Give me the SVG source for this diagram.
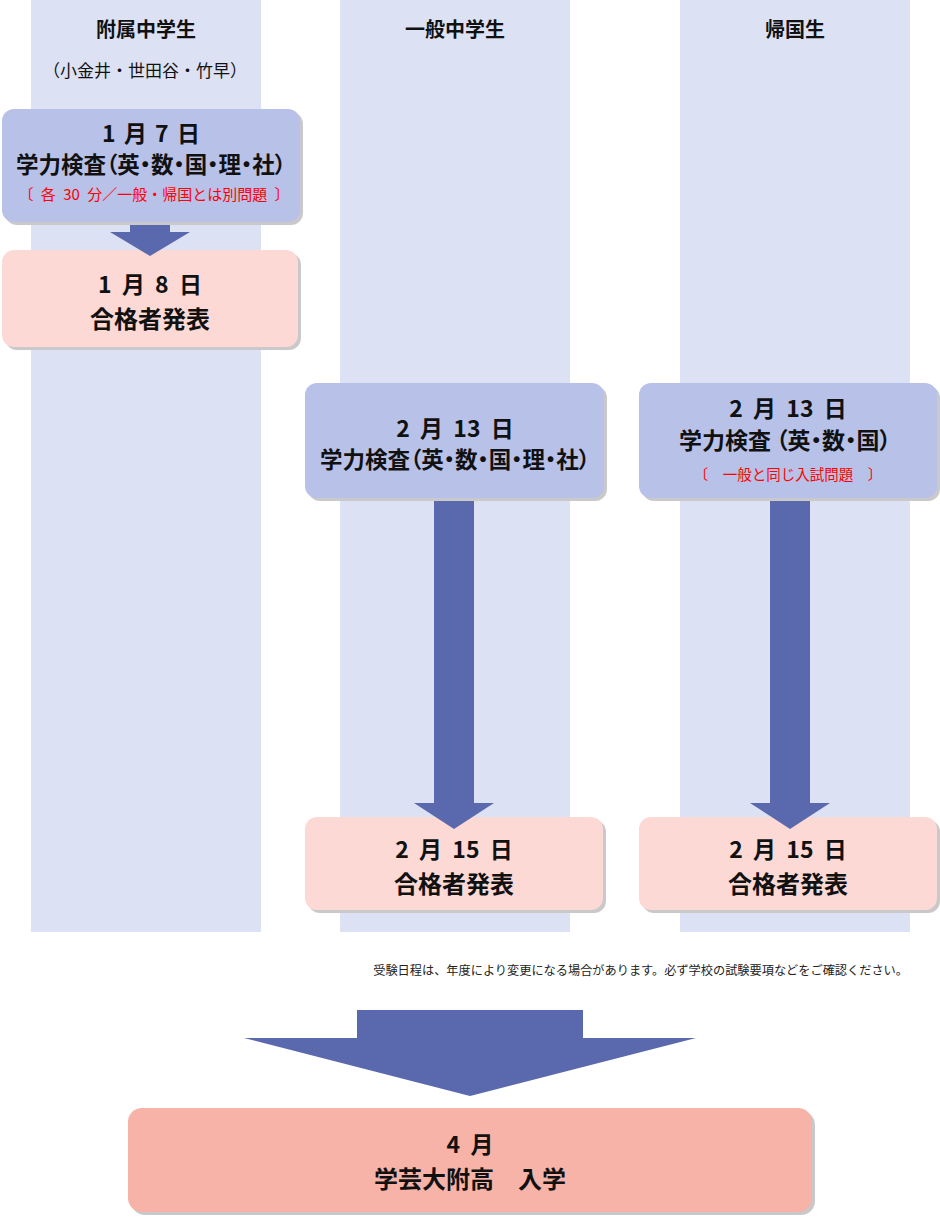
<svg xmlns="http://www.w3.org/2000/svg" width="940" height="1217" viewBox="0 0 940 1217">
<defs>
<style>
text{font-family:"Noto Sans CJK JP","Noto Sans",sans-serif;text-anchor:middle;dominant-baseline:central;fill:#111}
.col{fill:#dde1f4}
.sh{fill:#c9c9cb}
.blue{fill:#b8c1e8}
.pink{fill:#fcd9d4}
.big{fill:#f7b3a8}
.arr{fill:#5a69ae}
.hd{font-size:20px;font-weight:700}
.sub{font-size:17px}
.dt{font-size:23px;font-weight:700;word-spacing:5px}
.rs{font-size:24px;font-weight:700}
.tt{font-size:22.5px;font-weight:700;font-feature-settings:"palt" 1}
.rd{font-size:14.5px;fill:#f00}
.rd1{font-size:15px;fill:#f00;word-spacing:4px}
.nt{font-size:12.2px;text-anchor:end;fill:#222}
</style>
</defs>
<g id="columns">
<rect class="col" x="31" y="0" width="230" height="932"/>
<rect class="col" x="340" y="0" width="230" height="932"/>
<rect class="col" x="680" y="0" width="230" height="932"/>
</g>
<g id="headers">
<text class="hd" x="146" y="28">附属中学生</text>
<text class="sub" x="145" y="69">（小金井・世田谷・竹早）</text>
<text class="hd" x="455" y="28">一般中学生</text>
<text class="hd" x="795" y="28">帰国生</text>
</g>
<g id="node-jan8">
<rect class="sh" x="5" y="253" width="296" height="97" rx="12"/>
<rect class="pink" x="2" y="250" width="296" height="97" rx="12"/>
<text class="dt" x="150" y="283">1 月 8 日</text>
<text class="rs" x="150" y="317">合格者発表</text>
</g>
<g id="node-jan7">
<rect class="sh" x="5" y="112" width="298" height="113" rx="12"/>
<rect class="blue" x="2" y="109" width="298" height="113" rx="12"/>
<text class="dt" x="151" y="132" style="word-spacing:3px">1 月 7 日</text>
<text class="tt" x="151" y="163">学力検査（英・数・国・理・社）</text>
<text class="rd1" x="154" y="193">〔 各 30 分／一般・帰国とは別問題 〕</text>
</g>
<g id="node-feb13-general">
<rect class="sh" x="308" y="386" width="299" height="115" rx="12"/>
<rect class="blue" x="305" y="383" width="299" height="115" rx="12"/>
<text class="dt" x="455" y="427">2 月 13 日</text>
<text class="tt" x="455" y="458">学力検査（英・数・国・理・社）</text>
</g>
<g id="node-feb13-returnee">
<rect class="sh" x="642" y="386" width="298" height="115" rx="12"/>
<rect class="blue" x="639" y="383" width="298" height="115" rx="12"/>
<text class="dt" x="788" y="407">2 月 13 日</text>
<text class="tt" x="785" y="439" style="font-size:23px">学力検査 （英・数・国）</text>
<text class="rd" x="788" y="473">〔　一般と同じ入試問題　〕</text>
</g>
<g id="node-feb15-general">
<rect class="sh" x="308" y="820" width="298" height="93" rx="12"/>
<rect class="pink" x="305" y="817" width="298" height="93" rx="12"/>
<text class="dt" x="454" y="848">2 月 15 日</text>
<text class="rs" x="454" y="882">合格者発表</text>
</g>
<g id="node-feb15-returnee">
<rect class="sh" x="642" y="820" width="298" height="93" rx="12"/>
<rect class="pink" x="639" y="817" width="298" height="93" rx="12"/>
<text class="dt" x="788" y="848">2 月 15 日</text>
<text class="rs" x="788" y="882">合格者発表</text>
</g>
<g id="note">
<text class="nt" x="908" y="970">受験日程は、年度により変更になる場合があります。必ず学校の試験要項などをご確認ください。</text>
</g>
<g id="node-april">
<rect class="sh" x="131" y="1111" width="684" height="104" rx="14"/>
<rect class="big" x="128" y="1108" width="684" height="104" rx="14"/>
<text class="dt" x="470" y="1143">4 月</text>
<text class="rs" x="470" y="1177">学芸大附高　入学</text>
</g>
<g id="connectors">
<polygon class="arr" points="130,225 170,225 170,232 190,232 150,256 110,232 130,232"/>
<polygon class="arr" points="434,501 474,501 474,803 494,803 454,829 414,803 434,803"/>
<polygon class="arr" points="770,501 810,501 810,803 830,803 790,829 750,803 770,803"/>
<polygon class="arr" points="357,1010 583,1010 583,1038 696,1038 470,1096 244,1038 357,1038"/>
</g>
</svg>
